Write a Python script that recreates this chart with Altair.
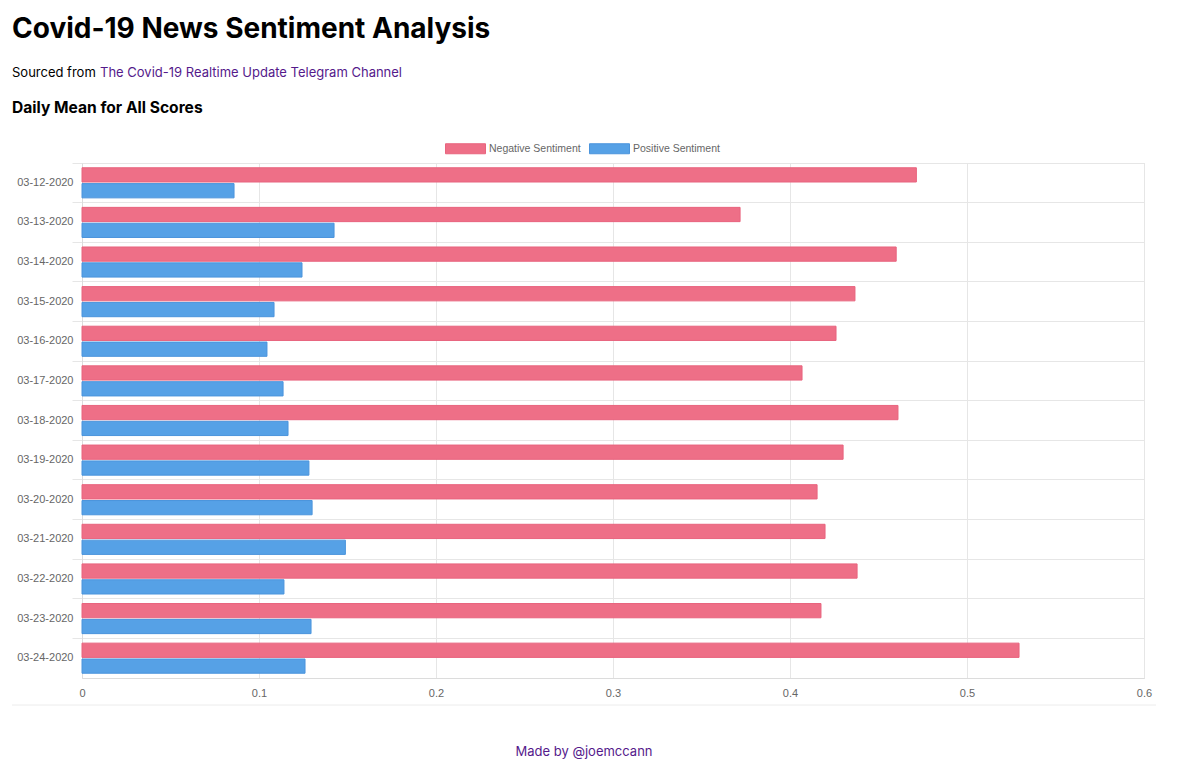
import altair as alt
import pandas as pd

dates = ["03-12-2020", "03-13-2020", "03-14-2020", "03-15-2020", "03-16-2020",
         "03-17-2020", "03-18-2020", "03-19-2020", "03-20-2020", "03-21-2020",
         "03-22-2020", "03-23-2020", "03-24-2020"]
negative = [0.4714, 0.3718, 0.4600, 0.4367, 0.4260, 0.4068, 0.4610,
            0.4300, 0.4153, 0.4198, 0.4379, 0.4175, 0.5294]
positive = [0.0859, 0.1424, 0.1243, 0.1085, 0.1045, 0.1136, 0.1164,
            0.1282, 0.1300, 0.1488, 0.1141, 0.1294, 0.1260]
series = ["Negative Sentiment", "Positive Sentiment"]
x_ticks = [0, 0.1, 0.2, 0.3, 0.4, 0.5, 0.6]

rows = []
for d, n, p in zip(dates, negative, positive):
    rows.append({"date": d, "series": series[0], "value": n})
    rows.append({"date": d, "series": series[1], "value": p})
df = pd.DataFrame(rows)

LABEL_FONT = "Liberation Sans"
PAGE_FONT = "Inter"
GRID = "#e6e6e6"

bars = alt.Chart(df).mark_bar(strokeWidth=1).encode(
    y=alt.Y("date:N", sort=dates,
            scale=alt.Scale(paddingInner=0, paddingOuter=0),
            axis=alt.Axis(title=None, bandPosition=0, grid=True, gridColor=GRID,
                          tickColor=GRID, tickSize=10, labelPadding=-1,
                          labelFont=LABEL_FONT, labelFontSize=11, labelColor="#666",
                          domainColor="#dcdcdc")),
    yOffset=alt.YOffset("series:N", sort=series,
                        scale=alt.Scale(paddingInner=0.1, paddingOuter=0.3)),
    x=alt.X("value:Q", scale=alt.Scale(domain=[0, 0.6], nice=False),
            axis=alt.Axis(title=None, values=x_ticks, format="~g", grid=True,
                          gridColor=GRID, ticks=False, labelPadding=9,
                          labelFlush=False,
                          labelFont=LABEL_FONT, labelFontSize=11, labelColor="#666",
                          domainColor="#dcdcdc")),
    color=alt.Color("series:N", sort=series,
                    scale=alt.Scale(domain=series, range=["#EE6F87", "#56A1E6"]),
                    legend=alt.Legend(title=None, orient="none", legendX=373, legendY=-25,
                                      direction="horizontal",
                                      symbolType="M-2,-0.5H2V0.5H-2Z", symbolSize=400,
                                      symbolStrokeWidth=1,
                                      labelFont=LABEL_FONT, labelFontSize=10.5,
                                      labelColor="#666", labelOffset=13,
                                      columnPadding=6)),
    stroke=alt.Stroke("series:N", sort=series,
                      scale=alt.Scale(domain=series, range=["#E8647E", "#4B94DC"]),
                      legend=None),
)

one = alt.Data(values=[{}])

title = alt.Chart(one).mark_text(
    text="Covid-19 News Sentiment Analysis", font=PAGE_FONT, fontSize=28,
    fontWeight="bold", align="left", baseline="alphabetic", color="#000"
).encode(x=alt.value(-70), y=alt.value(-125))

src1 = alt.Chart(one).mark_text(
    text="Sourced from", font=PAGE_FONT, fontSize=13, align="left",
    baseline="alphabetic", color="#000"
).encode(x=alt.value(-70), y=alt.value(-86))

src2 = alt.Chart(one).mark_text(
    text="The Covid-19 Realtime Update Telegram Channel", font=PAGE_FONT, fontSize=13,
    align="left", baseline="alphabetic", color="#551A8B"
).encode(x=alt.value(18), y=alt.value(-86))

sub = alt.Chart(one).mark_text(
    text="Daily Mean for All Scores", font=PAGE_FONT, fontSize=15.6, fontWeight="bold",
    align="left", baseline="alphabetic", color="#000"
).encode(x=alt.value(-70), y=alt.value(-50))

sep = alt.Chart(one).mark_rule(color="#ececec", strokeWidth=1).encode(
    x=alt.value(-70), x2=alt.value(1074), y=alt.value(542))

footer = alt.Chart(one).mark_text(
    text="Made by @joemccann", font=PAGE_FONT, fontSize=13, align="center",
    baseline="alphabetic", color="#551A8B"
).encode(x=alt.value(502), y=alt.value(593))

chart = alt.layer(bars, title, src1, src2, sub, sep, footer).properties(
    width=1062, height=515,
    autosize=alt.AutoSizeParams(type="none"),
    padding={"left": 82, "top": 163, "right": 56, "bottom": 95},
).configure_view(strokeWidth=0).configure(background="white")

chart.save("out.html", embed_options={"renderer": "svg", "actions": False})
